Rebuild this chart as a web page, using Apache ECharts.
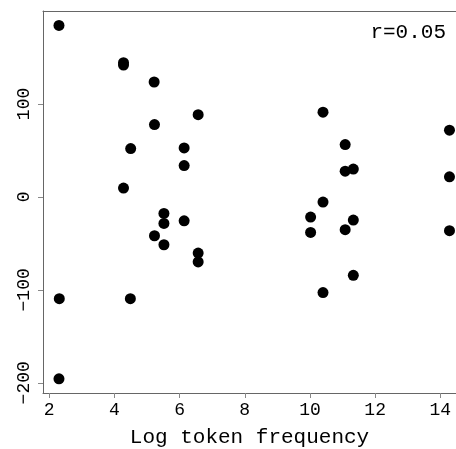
<!DOCTYPE html>
<html>
<head>
<meta charset="utf-8">
<script src="https://cdn.jsdelivr.net/npm/echarts@6/dist/echarts.min.js"></script>
<style>html,body{margin:0;padding:0;background:#fff}#c{width:456px;height:449px}</style>
</head>
<body>
<div id="c"></div>
<script>
const xTitle = "Log token frequency";
const corrLabel = "r=0.05";
const xValues = [2.30, 4.28, 4.28, 5.22, 5.23, 4.50, 6.14, 6.14, 6.57, 4.28, 5.52, 5.52, 6.14, 5.23, 5.52, 6.57, 6.57, 2.31, 4.49, 2.30,
                 10.40, 11.08, 11.08, 11.33, 10.40, 10.02, 10.02, 11.08, 11.33, 11.33, 10.40, 14.28, 14.28, 14.28];
const yValues = [184.5, 144.4, 141.9, 123.6, 77.8, 52.0, 52.7, 33.7, 88.5, 9.5, -17.8, -28.6, -25.7, -41.8, -51.5, -60.4, -70.0, -109.5, -109.5, -195.7,
                 91.1, 56.3, 27.7, 29.9, -5.6, -21.7, -38.2, -35.3, -24.9, -84.4, -103.0, 71.8, 21.6, -36.4];
const xTicks = [2, 4, 6, 8, 10, 12, 14];
const yTicks = [-200, -100, 0, 100];

const pts = xValues.map((x, i) => [x, yValues[i]]);
const font = "Liberation Mono";
const chart = echarts.init(document.getElementById('c'));
chart.setOption({
  animation: false,
  grid: { left: 43, right: 0, top: 11, bottom: 56, containLabel: false, outerBoundsMode: 'none' },
  xAxis: [{
    type: 'value', min: 1.81, max: 14.48, interval: 2,
    name: xTitle, nameLocation: 'middle', nameGap: 34,
    nameTextStyle: { fontFamily: font, fontSize: 21, color: '#000' },
    axisLine: { show: true, onZero: false, lineStyle: { color: '#666', width: 1 } },
    axisTick: { show: true, inside: false, length: 5, lineStyle: { color: '#888' }, customValues: xTicks },
    axisLabel: { fontFamily: font, fontSize: 18, color: '#000', margin: 8, customValues: xTicks, formatter: v => String(v) },
    splitLine: { show: false }
  }, {
    type: 'value', position: 'top', min: 1.81, max: 14.48,
    axisLine: { show: true, onZero: false, lineStyle: { color: '#666', width: 1 } },
    axisTick: { show: false }, axisLabel: { show: false }, splitLine: { show: false }
  }],
  yAxis: {
    type: 'value', min: -211, max: 200,
    axisLine: { show: true, onZero: false, lineStyle: { color: '#666', width: 1 } },
    axisTick: { show: true, inside: false, length: 5, lineStyle: { color: '#888' }, customValues: yTicks },
    axisLabel: { fontFamily: font, fontSize: 18, color: '#000', rotate: 90, margin: 10, customValues: yTicks,
      formatter: v => (v < 0 ? '\u2212' + Math.abs(v) : String(v)) },
    splitLine: { show: false }
  },
  graphic: [{
    type: 'text', right: 10, top: 22,
    style: { text: corrLabel, fontFamily: font, fontSize: 21, fill: '#000' }
  }],
  series: [{
    type: 'scatter', data: pts, symbol: 'circle', symbolSize: 11,
    itemStyle: { color: '#000', opacity: 1 }
  }]
});
</script>
</body>
</html>
